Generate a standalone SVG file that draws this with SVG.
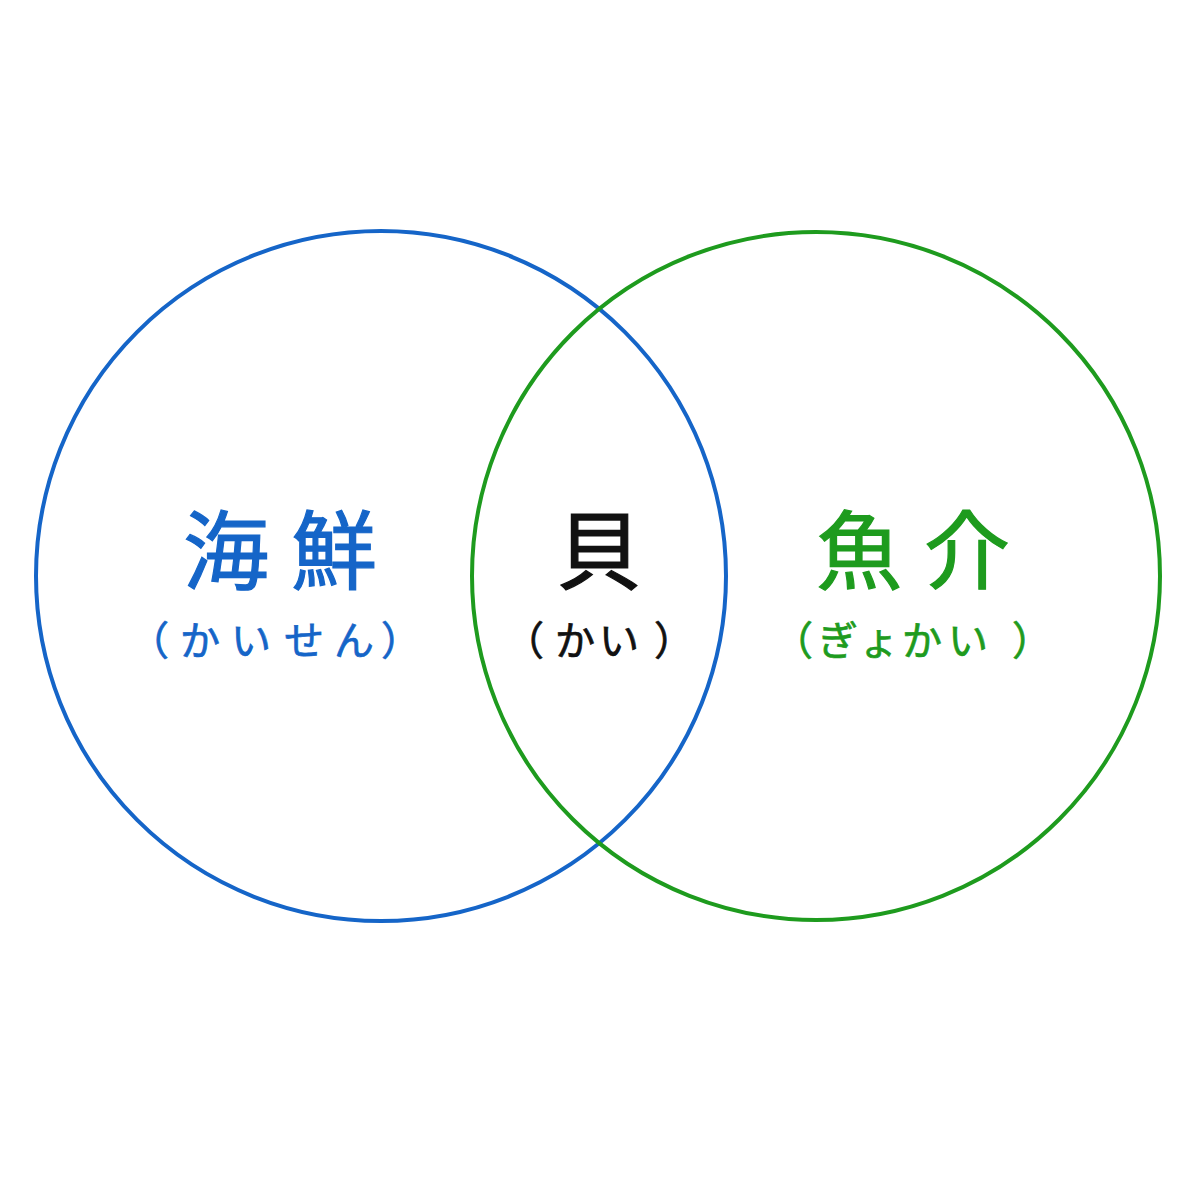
<svg xmlns="http://www.w3.org/2000/svg" width="1200" height="1200" viewBox="0 0 1200 1200">
<style>
.ring{fill:none;stroke-width:4}
.big{font-family:"Noto Sans CJK JP","Noto Sans CJK SC",sans-serif;font-size:86px;font-weight:400;text-anchor:middle;stroke-width:1.2}
.small{font-family:"Noto Sans CJK JP","Noto Sans CJK SC",sans-serif;font-size:40px;font-weight:400;text-anchor:middle;stroke-width:0.7}
.blue{fill:#1565c8;stroke:#1565c8}
.green{fill:#1e9b1e;stroke:#1e9b1e}
.black{fill:#111111;stroke:#111111}
</style>
<rect width="1200" height="1200" fill="#ffffff"/>
<g id="connectors"></g>
<g id="seafood-circle">
<circle class="ring" cx="381" cy="576" r="345" stroke="#1565c8"/>
</g>
<g id="fish-circle">
<circle class="ring" cx="816" cy="576" r="344" stroke="#1e9b1e"/>
</g>
<g id="seafood-label">
<text class="big blue" x="226 334" y="583">海鮮</text>
<text class="small blue" x="149 200 251 304 354 401" y="655">（かいせん）</text>
</g>
<g id="shellfish-label">
<text class="big black" x="599" y="583">貝</text>
<text class="small black" x="524 575 619 674" y="655">（かい）</text>
</g>
<g id="fish-label">
<text class="big green" x="859 967" y="583">魚介</text>
<text class="small green" x="793 838 879 922 968 1032" y="655">（ぎょかい）</text>
</g>
</svg>
